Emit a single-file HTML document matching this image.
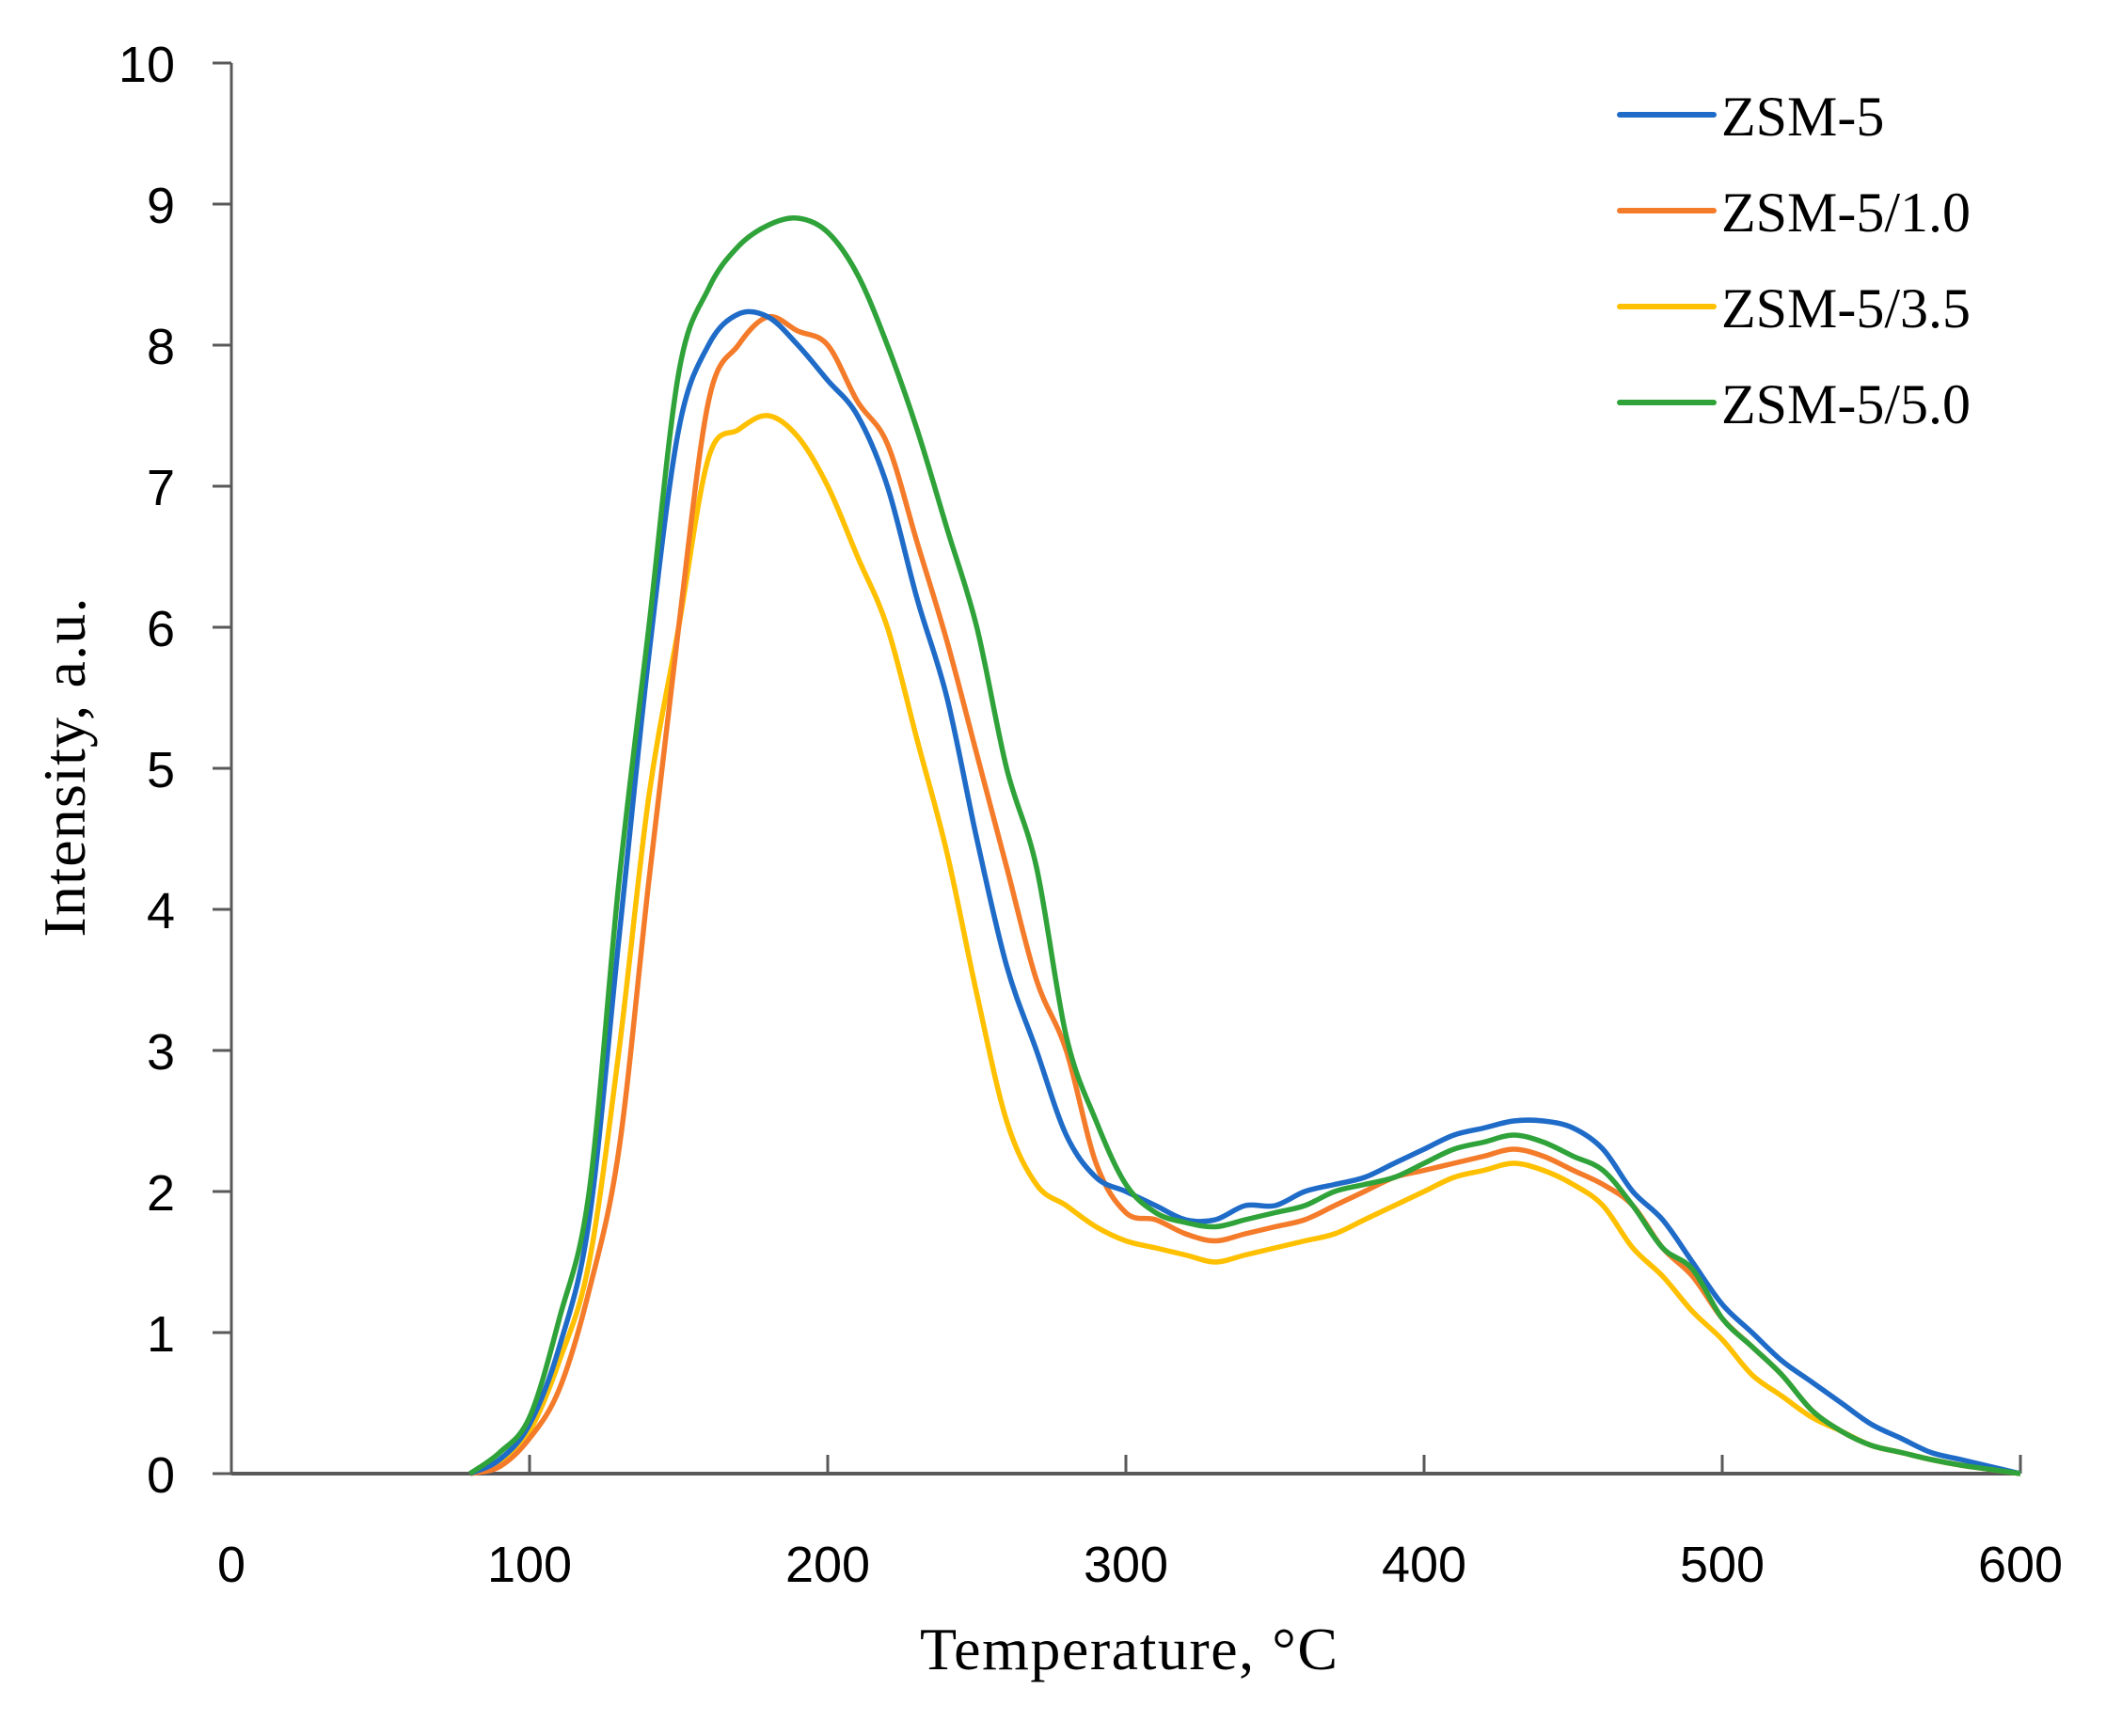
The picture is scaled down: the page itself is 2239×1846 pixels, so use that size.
<!DOCTYPE html>
<html><head><meta charset="utf-8"><style>
html,body{margin:0;padding:0;background:#fff}
svg{display:block}
</style></head><body>
<svg id="chart" width="2239" height="1846" viewBox="0 0 2239 1846" xmlns="http://www.w3.org/2000/svg">
<rect width="2239" height="1846" fill="#fff"/>
<g id="axes"></g>
<g id="series"></g>
<text x="1200" y="1775" font-family="Liberation Serif, serif" font-size="64" text-anchor="middle" textLength="444">Temperature, °C</text>
<text transform="translate(90,816) rotate(-90)" font-family="Liberation Serif, serif" font-size="64" text-anchor="middle" textLength="361">Intensity, a.u.</text>
<g id="legend"></g>
</svg>
<script>
const temps=[80,90,100,110,120,130,140,150,160,170,180,190,200,210,220,230,240,250,260,270,280,290,300,310,320,330,340,350,360,370,380,390,400,410,420,430,440,450,460,470,480,490,500,510,520,530,540,550,560,570,580,590,600];
const zsm5=[0,0.1,0.35,0.9,1.8,3.8,5.8,7.4,8.0,8.22,8.2,8.0,7.75,7.5,7.0,6.2,5.5,4.5,3.6,3.0,2.4,2.1,2.0,1.9,1.8,1.8,1.9,1.9,2.0,2.05,2.1,2.2,2.3,2.4,2.45,2.5,2.5,2.45,2.3,2.0,1.8,1.5,1.2,1.0,0.8,0.65,0.5,0.35,0.25,0.15,0.1,0.05,0];
const zsm5_10=[0,0.05,0.25,0.6,1.3,2.3,4.2,6.0,7.6,8.0,8.2,8.1,8.0,7.6,7.3,6.6,5.9,5.1,4.3,3.5,3.0,2.2,1.85,1.8,1.7,1.65,1.7,1.75,1.8,1.9,2.0,2.1,2.15,2.2,2.25,2.3,2.25,2.15,2.05,1.9,1.6,1.4,1.1,0.9,0.7,0.45,0.3,0.2,0.15,0.1,0.06,0.03,0];
const zsm5_35=[0,0.08,0.3,0.8,1.5,3.0,4.8,6.0,7.2,7.4,7.5,7.35,7.0,6.5,6.0,5.2,4.4,3.4,2.5,2.05,1.9,1.75,1.65,1.6,1.55,1.5,1.55,1.6,1.65,1.7,1.8,1.9,2.0,2.1,2.15,2.2,2.15,2.05,1.9,1.6,1.4,1.15,0.95,0.7,0.55,0.4,0.3,0.2,0.15,0.1,0.06,0.03,0];
const zsm5_50=[0,0.15,0.4,1.1,2.0,4.2,6.0,7.8,8.4,8.7,8.85,8.9,8.8,8.5,8.0,7.4,6.7,6.0,5.0,4.3,3.1,2.5,2.05,1.85,1.78,1.75,1.8,1.85,1.9,2.0,2.05,2.1,2.2,2.3,2.35,2.4,2.35,2.25,2.15,1.9,1.6,1.45,1.1,0.9,0.7,0.45,0.3,0.2,0.15,0.1,0.06,0.03,0];
const xTicks=[0,100,200,300,400,500,600];
const yTicks=[0,1,2,3,4,5,6,7,8,9,10];
const seriesNames=["ZSM-5","ZSM-5/1.0","ZSM-5/3.5","ZSM-5/5.0"];

const NS="http://www.w3.org/2000/svg";
const X0=246,X1=2148,Y0=1567,Y1=67;
const xs=v=>X0+(v-0)/600*(X1-X0);
const ys=v=>Y0-(v/10)*(Y0-Y1);
function mk(tag,attrs,parent){const e=document.createElementNS(NS,tag);for(const k in attrs)e.setAttribute(k,attrs[k]);parent.appendChild(e);return e;}
const axes=document.getElementById('axes');
const ax=mk('line',{x1:X0,y1:ys(0),x2:X1,y2:ys(0),stroke:'#595959','stroke-width':4},axes);


const ay=mk('line',{x1:X0,y1:ys(0),x2:X0,y2:ys(10),stroke:'#595959','stroke-width':3},axes);


xTicks.forEach(t=>{
  const l=mk('line',{x1:xs(t),y1:ys(0),x2:xs(t),y2:ys(0)-20,stroke:'#595959','stroke-width':3},axes);
  
  
  const tx=mk('text',{x:xs(t),y:1682,'font-family':'Liberation Sans Narrow, Liberation Sans, sans-serif','font-size':54,'text-anchor':'middle'},axes);
  tx.textContent=t;
  
  
});
yTicks.forEach(t=>{
  const l=mk('line',{x1:X0-20,y1:ys(t),x2:X0,y2:ys(t),stroke:'#595959','stroke-width':3},axes);
  
  
  const tx=mk('text',{x:186,y:ys(t)+20,'font-family':'Liberation Sans Narrow, Liberation Sans, sans-serif','font-size':54,'text-anchor':'end'},axes);
  tx.textContent=t;
  
  
});
function pathD(xv,yv){
  const p=xv.map((x,i)=>[xs(x),ys(yv[i])]);
  let d=`M${p[0][0]},${p[0][1]}`;
  for(let i=0;i<p.length-1;i++){
    const p0=p[Math.max(0,i-1)],p1=p[i],p2=p[i+1],p3=p[Math.min(p.length-1,i+2)];
    const c1=[p1[0]+(p2[0]-p0[0])/6,p1[1]+(p2[1]-p0[1])/6];
    const c2=[p2[0]-(p3[0]-p1[0])/6,p2[1]-(p3[1]-p1[1])/6];
    d+=` C${c1[0]},${c1[1]} ${c2[0]},${c2[1]} ${p2[0]},${p2[1]}`;
  }
  return d;
}
const series=document.getElementById('series');
const defs=[
  {vals:zsm5_35,color:'#FFC000',name:'series-zsm5-3.5'},
  {vals:zsm5_10,color:'#F47B2A',name:'series-zsm5-1.0'},
  {vals:zsm5,color:'#1F6BC8',name:'series-zsm5'},
  {vals:zsm5_50,color:'#2FA33A',name:'series-zsm5-5.0'}
];
defs.forEach(s=>{
  const p=mk('path',{d:pathD(temps,s.vals),fill:'none',stroke:s.color,'stroke-width':5.5,'stroke-linejoin':'round'},series);
  
  
});
const legend=document.getElementById('legend');
const legColors=['#1F6BC8','#F47B2A','#FFC000','#2FA33A'];
const legY=[122,224,326,428];
seriesNames.forEach((n,i)=>{
  const l=mk('line',{x1:1722,y1:legY[i],x2:1822,y2:legY[i],stroke:legColors[i],'stroke-width':6,'stroke-linecap':'round'},legend);
  
  
  const t=mk('text',{x:1830,y:legY[i]+22,'font-family':'Liberation Serif, serif','font-size':60},legend);
  t.textContent=n;
  
  
});
</script>
</body></html>
